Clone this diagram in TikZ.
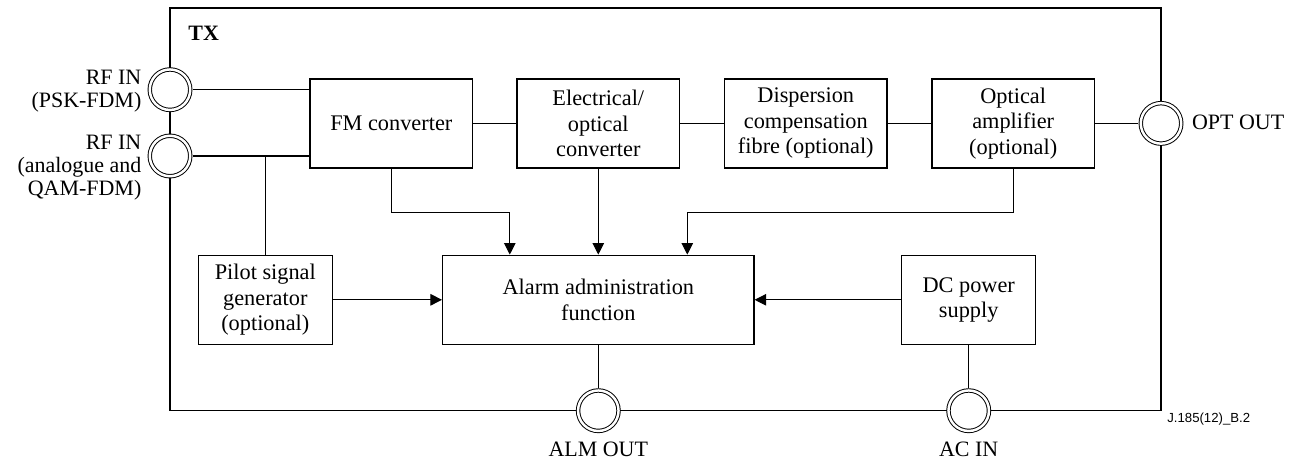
\documentclass[tikz,border=0pt]{standalone}
\usepackage{fontspec}
\setmainfont{Liberation Serif}
\newfontfamily\figfont{Liberation Sans}
\usetikzlibrary{arrows.meta}

\begin{document}
\begin{tikzpicture}[x=0.02cm, y=-0.02cm,
        blk/.style={draw, line width=0.8pt, minimum width=3.254cm, minimum height=1.78cm,
            align=center, inner sep=1pt, font=\fontsize{12.7}{14.5}\selectfont},
        port/.style={circle, draw, line width=0.55pt, double, double distance=1.4pt,
            fill=white, minimum size=0.81cm, inner sep=0pt, outer sep=1.3pt},
        lbl/.style={inner sep=0pt, align=right, font=\fontsize{12.5}{13}\selectfont},
        wire/.style={line width=0.6pt},
        arr/.style={wire, -{Triangle[length=6.6pt, width=6.6pt]}}]
        \useasboundingbox (0,0) rectangle (1294,459);
        % frame of the transmitter
        \draw[line width=0.8pt] (170,8) rectangle (1161,410.7);
        \node[anchor=base west, inner sep=0pt, font=\fontsize{12.5}{14}\selectfont\bfseries] (tx) at (188,41) {TX};
        % ports
        \node[port] (rf1) at (170,89.7) {};
        \node[port] (rf2) at (170,156) {};
        \node[port] (opt) at (1161,123.4) {};
        \node[port] (alm) at (598.3,410.7) {};
        \node[port] (ac) at (968.7,410.7) {};
        \node[lbl, anchor=north east] (rf1lbl) at (141.7,70) {RF IN\\(PSK-FDM)};
        \node[lbl, anchor=north east] (rf2lbl) at (141.7,135) {RF IN\\(analogue and\\QAM-FDM)};
        \node[lbl, anchor=base west] (optlbl) at (1191.7,129.5) {OPT OUT};
        \node[lbl, anchor=base] (almlbl) at (598.3,456) {ALM OUT};
        \node[lbl, anchor=base] (aclbl) at (968.7,456) {AC IN};
        % blocks
        \node[blk] (fm) at (391.3,123.4) {FM converter};
        \node[blk] (eo) at (598.3,123.4) {Electrical/\\optical\\converter};
        \node[blk] (dcf) at (805.8,123.4) {Dispersion\\compensation\\fibre (optional)};
        \node[blk] (oa) at (1013.2,123.4) {Optical\\amplifier\\(optional)};
        \node[blk, minimum width=2.68cm] (pilot) at (265.3,299.8) {Pilot signal\\generator\\(optional)};
        \node[blk, minimum width=6.226cm] (alarm) at (598.3,299.8) {Alarm administration\\function};
        \node[blk, minimum width=2.68cm] (dc) at (968.7,299.8) {DC power\\supply};
        % signal path
        \draw[wire] (rf1) -- (rf1 -| fm.west);
        \draw[wire] (rf2) -- (rf2 -| fm.west);
        \draw[wire] (pilot.north |- rf2) -- (pilot.north);
        \draw[wire] (fm) -- (eo);
        \draw[wire] (eo) -- (dcf);
        \draw[wire] (dcf) -- (oa);
        \draw[wire] (oa) -- (opt);
        % alarm inputs
        \coordinate (bus) at (600,212.7);
        \path (alarm.north) ++(-88.5,0) coordinate (in1) ++(177.5,0) coordinate (in3);
        \draw[arr] (fm.south) -- (fm.south |- bus) -| (in1);
        \draw[arr] (eo) -- (alarm);
        \draw[arr] (oa.south) -- (oa.south |- bus) -| (in3);
        \draw[arr] (pilot) -- (alarm);
        \draw[arr] (dc) -- (alarm);
        \draw[wire] (alarm) -- (alm);
        \draw[wire] (dc) -- (ac);
        \node[anchor=base west, inner sep=0pt, font=\figfont\fontsize{7.5}{9}\selectfont] (figid) at (1167,422) {J.185(12)\_B.2};
\end{tikzpicture}
\end{document}
